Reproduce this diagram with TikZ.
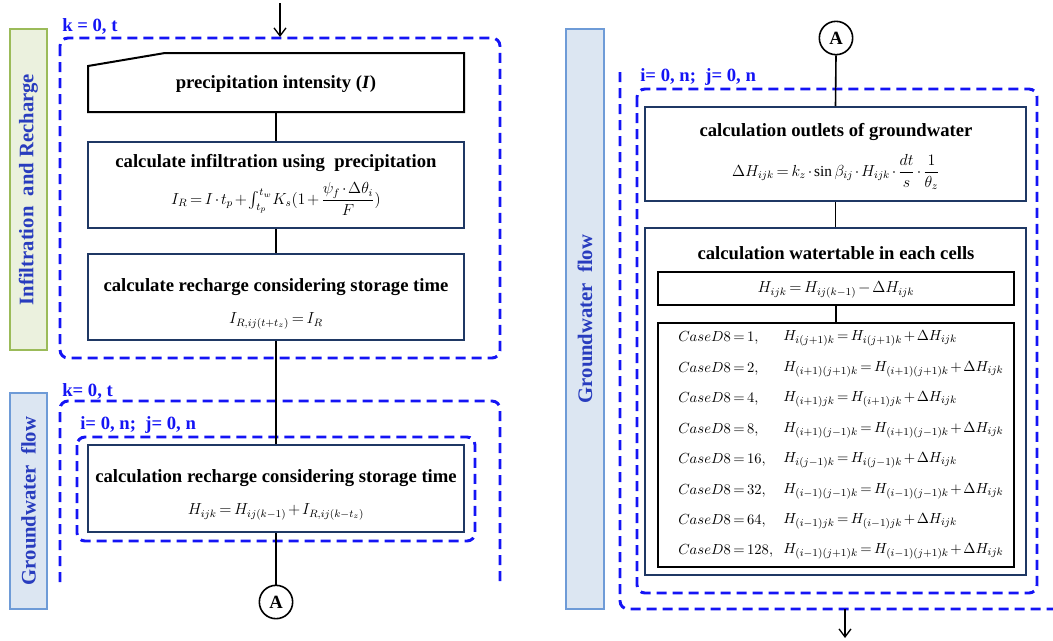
\documentclass[tikz,border=0pt]{standalone}
\usepackage{amsmath}
\usepackage{fontspec}
\setmainfont{Liberation Serif}
\usetikzlibrary{fit,arrows.meta}
\definecolor{dashblue}{RGB}{20,20,245}
\definecolor{lbltext}{RGB}{40,60,190}
\definecolor{navy}{RGB}{31,56,100}
\definecolor{greenfill}{RGB}{235,241,222}
\definecolor{greenline}{RGB}{155,187,89}
\definecolor{bluefill}{RGB}{220,230,242}
\definecolor{blueline}{RGB}{110,155,215}
\newcommand{\tightmath}{\thickmuskip=3mu plus 1mu\medmuskip=2mu plus 1mu\relax}
\tikzset{
 loopbox/.style={draw=dashblue, line width=2.2pt, dash pattern=on 7.5pt off 4.5pt, rounded corners=6pt},
 procbox/.style={draw=navy, line width=1.5pt, inner sep=0pt},
 plainbox/.style={draw=black, line width=1.5pt, inner sep=0pt},
 titletext/.style={font=\fontsize{14}{16}\selectfont\bfseries, inner sep=1pt},
 formula/.style={font=\fontsize{11.5}{13}\selectfont\tightmath, inner sep=1pt},
 casetext/.style={font=\fontsize{11}{13}\selectfont\tightmath, anchor=west, inner sep=0pt},
 looplabel/.style={font=\fontsize{14}{16}\selectfont\bfseries, text=dashblue, anchor=west, inner sep=0pt},
 sidebox/.style={line width=1.2pt, inner sep=0pt},
 sidetext/.style={font=\fontsize{15.5}{17}\selectfont\bfseries, text=lbltext, rotate=90},
 conn/.style={draw=black, line width=1.2pt},
 connA/.style={circle, draw=black, line width=1.2pt, minimum size=25pt, inner sep=0pt, font=\fontsize{14}{16}\selectfont\bfseries},
}
\begin{document}
\begin{tikzpicture}[x=0.75pt,y=-0.75pt]
\useasboundingbox (0,0) rectangle (1053,640);

% side labels
\node[sidebox, fill=greenfill, draw=greenline, fit={(10,29)(47,350)}] (sideIR) {};
\node[sidetext] (sideIRt) at (sideIR.center) {Infiltration\ \ and Recharge};
\node[sidebox, fill=bluefill, draw=blueline, fit={(10,393)(47,609)}] (sideGW) {};
\node[sidetext] (sideGWt) at (sideGW.center) {Groundwater\ \ flow};
\node[sidebox, fill=bluefill, draw=blueline, fit={(566,29)(604,609)}] (sideGW2) {};
\node[sidetext] (sideGW2t) at (sideGW2.center) {Groundwater\ \ flow};

% loop boxes left
\draw[loopbox] (60,38) rectangle (500,358);
\node[looplabel] (lk1) at (62,26) {k = 0, t};
\draw[loopbox] (60,582) -- (60,401) -- (500,401) -- (500,582);
\node[looplabel] (lk2) at (62,391) {k= 0, t};
\draw[loopbox] (77,437) rectangle (475,541);
\node[looplabel] (lij1) at (80,425) {i= 0, n;\ \ j= 0, n};

% loop boxes right
\draw[loopbox] (620,72) -- (620,609) -- (1056,609);
\draw[loopbox] (637,89) rectangle (1037,593);
\node[looplabel] (lij2) at (640,77) {i= 0, n;\ \ j= 0, n};

% left column
\draw[black, line width=1.5pt, fill=white] (88,66) -- (165,53) -- (464,53) -- (464,112) -- (88,112) -- cycle;
\node[inner sep=0pt, fit={(88,53)(464,112)}] (b1) {};
\node[titletext] (b1t) at (276,84) {precipitation intensity (\textit{I})};

\node[procbox, fit={(88,142)(464,228)}] (b2) {};
\node[titletext] (b2t) at (276,163) {calculate infiltration using\ \ precipitation};
\node[formula] (b2f) at (276,199) {$I_R = I\cdot t_p + \int_{t_p}^{t_w}\! K_s(1+\dfrac{\psi_f\cdot\Delta\theta_i}{F})$};

\node[procbox, fit={(88,254)(464,340)}] (b3) {};
\node[titletext] (b3t) at (276,287) {calculate recharge considering storage time};
\node[formula] (b3f) at (276,321) {$I_{R,ij(t+t_z)} = I_R$};

\node[procbox, fit={(88,445)(464,532)}] (b4) {};
\node[titletext] (b4t) at (276,478) {calculation recharge considering storage time};
\node[formula] (b4f) at (276,512) {$H_{ijk} = H_{ij(k-1)} + I_{R,ij(k-t_z)}$};

\node[connA] (A1) at (276,602) {A};

\coordinate (inTop) at (280,3);
\coordinate (inEnd) at (280,37);
\draw[conn, line width=1pt, -{Straight Barb[length=6pt,width=9pt]}] (inTop) -- (inEnd);
\draw[conn] (b1.south) -- (b2.north);
\draw[conn] (b2.south) -- (b3.north);
\draw[conn] (b3.south) -- (b4.north);
\draw[conn] (b4.south) -- (A1.north);

% right column
\node[connA] (A2) at (836,38) {A};
\node[procbox, fit={(645,107)(1026,201)}] (b5) {};
\node[titletext] (b5t) at (836,132) {calculation outlets of groundwater};
\node[formula] (b5f) at (836,172) {$\Delta H_{ijk} = k_z\cdot\sin\beta_{ij}\cdot H_{ijk}\cdot\dfrac{dt}{s}\cdot\dfrac{1}{\theta_z}$};

\node[procbox, fit={(645,228)(1026,575)}] (b6) {};
\node[titletext] (b6t) at (836,253) {calculation watertable in each cells};
\node[plainbox, fit={(658,272)(1014,305)}] (b6a) {};
\node[formula] (b6af) at (836,290) {$H_{ijk} = H_{ij(k-1)} - \Delta H_{ijk}$};
\node[plainbox, fit={(658,323)(1014,567)}] (b6b) {};

\node[casetext] (c1) at (678,338) {$CaseD8=1,$};
\node[casetext] (h1) at (783,338) {$H_{i(j+1)k} = H_{i(j+1)k} + \Delta H_{ijk}$};
\node[casetext] (c2) at (678,369) {$CaseD8=2,$};
\node[casetext] (h2) at (783,369) {$H_{(i+1)(j+1)k} = H_{(i+1)(j+1)k} + \Delta H_{ijk}$};
\node[casetext] (c3) at (678,399) {$CaseD8=4,$};
\node[casetext] (h3) at (783,399) {$H_{(i+1)jk} = H_{(i+1)jk} + \Delta H_{ijk}$};
\node[casetext] (c4) at (678,430) {$CaseD8=8,$};
\node[casetext] (h4) at (783,430) {$H_{(i+1)(j-1)k} = H_{(i+1)(j-1)k} + \Delta H_{ijk}$};
\node[casetext] (c5) at (678,460) {$CaseD8=16,$};
\node[casetext] (h5) at (783,460) {$H_{i(j-1)k} = H_{i(j-1)k} + \Delta H_{ijk}$};
\node[casetext] (c6) at (678,491) {$CaseD8=32,$};
\node[casetext] (h6) at (783,491) {$H_{(i-1)(j-1)k} = H_{(i-1)(j-1)k} + \Delta H_{ijk}$};
\node[casetext] (c7) at (678,521) {$CaseD8=64,$};
\node[casetext] (h7) at (783,521) {$H_{(i-1)jk} = H_{(i-1)jk} + \Delta H_{ijk}$};
\node[casetext] (c8) at (678,551) {$CaseD8=128,$};
\node[casetext] (h8) at (783,551) {$H_{(i-1)(j+1)k} = H_{(i-1)(j+1)k} + \Delta H_{ijk}$};

\draw[conn] (A2.south) -- (b5.north);
\draw[conn] (b5.south) -- (b6.north);
\draw[conn] (b6a.south) -- (b6b.north);
\coordinate (outTop) at (845,609);
\coordinate (outEnd) at (845,638);
\draw[conn, line width=1pt, -{Straight Barb[length=6pt,width=9pt]}] (outTop) -- (outEnd);
\end{tikzpicture}
\end{document}
